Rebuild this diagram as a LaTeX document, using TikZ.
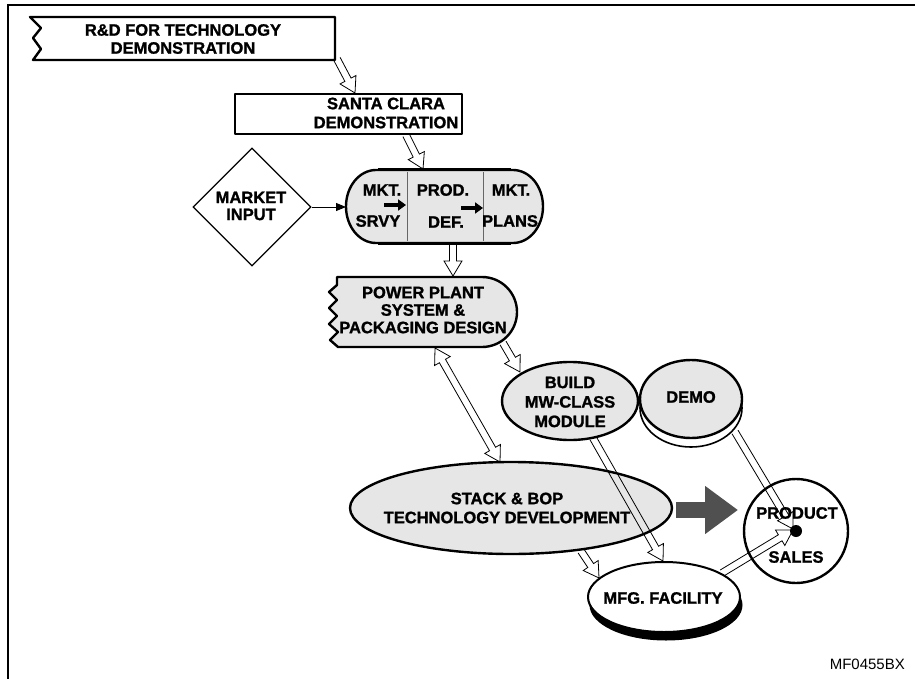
\documentclass[tikz,border=0pt]{standalone}
\usepackage{fontspec}
\setmainfont{Liberation Sans}
\newfontfamily\heavyfont{Liberation Sans}[BoldFeatures={FakeBold=1.3}]
\usetikzlibrary{shapes.geometric,arrows.meta,calc}
\definecolor{boxgray}{HTML}{E6E6E6}
\definecolor{bigarrow}{HTML}{505050}

\newcommand{\harrow}[2]{%
 \coordinate (ha-s) at (#1);
 \coordinate (ha-e) at (#2);
 \coordinate (ha-b) at ($(ha-e)!15pt!(ha-s)$);
 \draw[hollow] ($(ha-s)!3.5pt!90:(ha-e)$) -- ($(ha-b)!3.5pt!90:(ha-e)$) -- ($(ha-b)!9pt!90:(ha-e)$) -- (ha-e) -- ($(ha-b)!9pt!-90:(ha-e)$) -- ($(ha-b)!3.5pt!-90:(ha-e)$) -- ($(ha-s)!3.5pt!-90:(ha-e)$);
}
\newcommand{\hdarrow}[2]{%
 \coordinate (hd-s) at (#1);
 \coordinate (hd-e) at (#2);
 \coordinate (hd-b1) at ($(hd-s)!15pt!(hd-e)$);
 \coordinate (hd-b2) at ($(hd-e)!15pt!(hd-s)$);
 \draw[hollow] (hd-s) -- ($(hd-b1)!9pt!90:(hd-e)$) -- ($(hd-b1)!3.5pt!90:(hd-e)$) -- ($(hd-b2)!3.5pt!90:(hd-e)$) -- ($(hd-b2)!9pt!90:(hd-e)$) -- (hd-e) -- ($(hd-b2)!9pt!-90:(hd-e)$) -- ($(hd-b2)!3.5pt!-90:(hd-e)$) -- ($(hd-b1)!3.5pt!-90:(hd-e)$) -- ($(hd-b1)!9pt!-90:(hd-e)$) -- cycle;
}

\begin{document}
\begin{tikzpicture}[x=1pt,y=-1pt,
  lbl/.style={font=\heavyfont\fontsize{16.5}{18}\selectfont\bfseries, align=center, inner sep=0pt},
  outline/.style={draw=black, line width=2.4pt, line join=round},
  shapeell/.style={ellipse, draw=black, line width=2.4pt, fill=boxgray, inner sep=0pt},
  hollow/.style={draw=black, line width=0.8pt, line join=miter},
  smallarrow/.style={line width=3.5pt, -{Triangle[length=8pt,width=11pt]}},
]
\useasboundingbox (0,0) rectangle (915,679);
% frame
\draw[line width=2pt] (915,5) -- (8,5) -- (8,679);

% R&D box
\draw[outline, fill=white] (30,17) -- (335,17) -- (335,60) -- (33,60) -- (41,49) -- (33,38) -- (41,28) -- cycle;
\node[lbl] (rd) at (183,39) {R\&D FOR TECHNOLOGY\\DEMONSTRATION};

% Santa Clara
\draw[outline] (235,94) rectangle (462,134);
\node[lbl, font=\heavyfont\fontsize{16.5}{19}\selectfont\bfseries] (sc) at (386,113) {SANTA CLARA\\DEMONSTRATION};

% Market input
\node[diamond, draw=black, line width=1.3pt, minimum width=118pt, minimum height=118pt, inner sep=0pt] (mktshape) at (252,207) {};
\node[lbl, font=\heavyfont\fontsize{16.5}{17}\selectfont\bfseries] (mkt) at (251,206) {MARKET\\INPUT};

% capsule
\draw[outline, fill=boxgray] (376,170) -- (513,170) arc[start angle=-90,end angle=90,x radius=30,y radius=36.5] -- (376,243) arc[start angle=90,end angle=270,x radius=30,y radius=36.5] -- cycle;
\draw[line width=3pt] (378,170) -- (511,170);
\draw[line width=3pt] (378,243) -- (511,243);
\draw[line width=0.6pt, black!60] (407,172) -- (407,241);
\draw[line width=0.6pt, black!60] (483,172) -- (483,241);
\node[lbl] (srv1) at (382,190) {MKT.};
\node[lbl] (srv2) at (378,221) {SRVY};
\node[lbl] (def1) at (443,190) {PROD.};
\node[lbl] (def2) at (446,222) {DEF.};
\node[lbl] (pl1) at (511,190) {MKT.};
\node[lbl] (pl2) at (510,221) {PLANS};
\coordinate (sa1) at (384,205);
\coordinate (sa2) at (406,205);
\coordinate (sb1) at (461,208);
\coordinate (sb2) at (483,208);
\draw[smallarrow] (sa1) -- (sa2);
\draw[smallarrow] (sb1) -- (sb2);
\draw[line width=1pt, -{Triangle[length=10pt,width=8pt]}] (mktshape.east) -- (346,207);

% power plant
\draw[outline, fill=boxgray] (337,277) -- (482,277) arc[start angle=-90,end angle=90,x radius=35,y radius=35] -- (338,347) -- (330,340) -- (338,332) -- (329,324) -- (337,316) -- (329,308) -- (337,300) -- (329,292) -- (337,285) -- cycle;
\node[lbl, font=\heavyfont\fontsize{16.5}{17.5}\selectfont\bfseries] (pp) at (423,310) {POWER PLANT\\SYSTEM \&\\PACKAGING DESIGN};

% build
\node[shapeell, minimum width=136pt, minimum height=78pt] (buildshape) at (570,401) {};
\node[lbl, font=\heavyfont\fontsize{16.5}{19.5}\selectfont\bfseries] (build) at (570,402) {BUILD\\MW-CLASS\\MODULE};

% demo
\node[ellipse, draw=black, line width=1.6pt, fill=white, inner sep=0pt, minimum width=102pt, minimum height=78pt] (demoshadow) at (691,408) {};
\node[shapeell, minimum width=102pt, minimum height=78pt] (demoshape) at (691,399) {};
\node[lbl] (demo) at (691,397) {DEMO};

% stack
\node[shapeell, minimum width=322pt, minimum height=92pt] (stackshape) at (511,508) {};
\node[lbl, font=\heavyfont\fontsize{16.5}{19}\selectfont\bfseries] (stack) at (507,508) {STACK \& BOP\\TECHNOLOGY DEVELOPMENT};

% MFG facility
\node[ellipse, fill=black, inner sep=0pt, minimum width=153pt, minimum height=71pt] (mfgshadow) at (666,605) {};
\node[ellipse, draw=black, line width=2pt, fill=white, inner sep=0pt, minimum width=152pt, minimum height=70pt] (mfgshape) at (664,597) {};
\node[lbl] (mfg) at (663,598) {MFG. FACILITY};

% product sales
\node[circle, draw=black, line width=2.4pt, fill=white, inner sep=0pt, minimum size=104pt] (prodshape) at (796,531) {};
\node[circle, fill=black, inner sep=0pt, minimum size=12pt] (dot) at (796,531) {};
\node[lbl] (prod) at (797,513) {PRODUCT};
\node[lbl] (sales) at (796,557) {SALES};

% big gray arrow
\coordinate (bigA) at (676,510);
\coordinate (bigB) at (738,510);
\draw[line width=16pt, bigarrow, -{Triangle[length=33pt,width=46pt]}] (bigA) -- (bigB);

% hollow arrows
\coordinate (a1s) at (337,59);  \coordinate (a1e) at (355,93);
\coordinate (a2s) at (406,135); \coordinate (a2e) at (423,169);
\coordinate (a3s) at (453,244); \coordinate (a3e) at (453,276);
\coordinate (a4s) at (503,343); \coordinate (a4e) at (520,372);
\coordinate (a5s) at (435,348); \coordinate (a5e) at (500,462);
\coordinate (a6s) at (581,551); \coordinate (a6e) at (599,578);
\coordinate (a7s) at (593,438); \coordinate (a7e) at (663,561);
\coordinate (a8s) at (735,432); \coordinate (a8e) at (793,529);
\coordinate (a9s) at (722,573); \coordinate (a9e) at (793,530);
\harrow{a1s}{a1e}
\harrow{a2s}{a2e}
\harrow{a3s}{a3e}
\harrow{a4s}{a4e}
\hdarrow{a5s}{a5e}
\harrow{a6s}{a6e}
\harrow{a7s}{a7e}
\harrow{a8s}{a8e}
\harrow{a9s}{a9e}

% code
\node[font=\fontsize{15}{15}\selectfont, anchor=east, inner sep=0pt] (code) at (905,664) {MF0455BX};
\end{tikzpicture}
\end{document}
